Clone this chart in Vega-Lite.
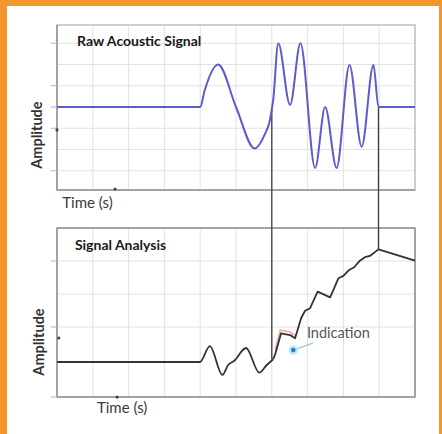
{
  "$schema": "https://vega.github.io/schema/vega-lite/v6.json",
  "width": 442,
  "height": 434,
  "autosize": {"type": "fit", "contains": "padding"},
  "padding": 0,
  "background": "#F3962B",
  "config": {"view": {"stroke": null}},
  "datasets": {
    "bg": [{"x": -1.397, "x2": 10.67, "y": -15.388, "y2": 4.753}],
    "grid": [
      {"x": 1, "x2": 1, "y": -3.91, "y2": 3.86}, {"x": 2, "x2": 2, "y": -3.91, "y2": 3.86},
      {"x": 3, "x2": 3, "y": -3.91, "y2": 3.86}, {"x": 4, "x2": 4, "y": -3.91, "y2": 3.86},
      {"x": 5, "x2": 5, "y": -3.91, "y2": 3.86}, {"x": 6, "x2": 6, "y": -3.91, "y2": 3.86},
      {"x": 7, "x2": 7, "y": -3.91, "y2": 3.86}, {"x": 8, "x2": 8, "y": -3.91, "y2": 3.86},
      {"x": 9, "x2": 9, "y": -3.91, "y2": 3.86},
      {"x": 0, "x2": 10, "y": 3, "y2": 3}, {"x": 0, "x2": 10, "y": 2, "y2": 2},
      {"x": 0, "x2": 10, "y": 1, "y2": 1}, {"x": 0, "x2": 10, "y": -1, "y2": -1},
      {"x": 0, "x2": 10, "y": -2, "y2": -2}, {"x": 0, "x2": 10, "y": -3, "y2": -3},
      {"x": 1, "x2": 1, "y": -13.65, "y2": -5.69}, {"x": 2, "x2": 2, "y": -13.65, "y2": -5.69},
      {"x": 3, "x2": 3, "y": -13.65, "y2": -5.69}, {"x": 4, "x2": 4, "y": -13.65, "y2": -5.69},
      {"x": 5, "x2": 5, "y": -13.65, "y2": -5.69}, {"x": 6, "x2": 6, "y": -13.65, "y2": -5.69},
      {"x": 7, "x2": 7, "y": -13.65, "y2": -5.69}, {"x": 8, "x2": 8, "y": -13.65, "y2": -5.69},
      {"x": 9, "x2": 9, "y": -13.65, "y2": -5.69},
      {"x": 0, "x2": 10, "y": -7.25, "y2": -7.25}, {"x": 0, "x2": 10, "y": -8.8, "y2": -8.8},
      {"x": 0, "x2": 10, "y": -10.35, "y2": -10.35}
    ],
    "frames": [
      {"x": 0, "x2": 10, "y": -3.91, "y2": 3.86},
      {"x": 0, "x2": 10, "y": -13.65, "y2": -5.69}
    ],
    "axes": [
      {"x": 0, "x2": 0, "y": -3.91, "y2": 3.86},
      {"x": 0, "x2": 10, "y": -3.91, "y2": -3.91},
      {"x": 0, "x2": 0, "y": -13.65, "y2": -5.69},
      {"x": 0, "x2": 10, "y": -13.65, "y2": -13.65},
      {"x": 0, "x2": 10, "y": -5.69, "y2": -5.69},
      {"x": 10, "x2": 10, "y": -13.65, "y2": -5.69}
    ],
    "ticks": [
      {"x": -0.18, "x2": 0, "y": 3, "y2": 3}, {"x": -0.18, "x2": 0, "y": 1, "y2": 1},
      {"x": -0.18, "x2": 0, "y": 0, "y2": 0}, {"x": -0.18, "x2": 0, "y": -1, "y2": -1},
      {"x": -0.18, "x2": 0, "y": -3, "y2": -3},
      {"x": -0.18, "x2": 0, "y": -7.25, "y2": -7.25}, {"x": -0.18, "x2": 0, "y": -10.35, "y2": -10.35},
      {"x": -0.18, "x2": 0, "y": -13.65, "y2": -13.65}
    ],
    "links": [
      {"x": 6.0, "y": -0.1, "y2": -11.87},
      {"x": 8.98, "y": 0, "y2": -6.72}
    ],
    "raw": [
      {"t": 0, "a": 0}, {"t": 4.0, "a": 0}, {"t": 4.12, "a": 0.75}, {"t": 4.5, "a": 2.0},
      {"t": 5.0, "a": 0}, {"t": 5.52, "a": -1.95}, {"t": 5.8, "a": -1.3}, {"t": 5.95, "a": -0.6},
      {"t": 6.0, "a": -0.1}, {"t": 6.04, "a": 0.35}, {"t": 6.18, "a": 3.0}, {"t": 6.51, "a": 0.1},
      {"t": 6.8, "a": 3.0}, {"t": 7.21, "a": -2.87}, {"t": 7.49, "a": 0.0}, {"t": 7.81, "a": -2.87},
      {"t": 8.17, "a": 1.98}, {"t": 8.51, "a": -1.87}, {"t": 8.84, "a": 1.98}, {"t": 8.98, "a": 0},
      {"t": 10, "a": 0}
    ],
    "analysisSmooth": [
      {"t": 0, "v": -12.0}, {"t": 3.99, "v": -12.0}, {"t": 4.27, "v": -11.25}, {"t": 4.62, "v": -12.61},
      {"t": 4.78, "v": -12.14}, {"t": 4.95, "v": -11.94}, {"t": 5.28, "v": -11.34}, {"t": 5.65, "v": -12.5},
      {"t": 5.86, "v": -12.14}, {"t": 6.04, "v": -11.87}
    ],
    "analysisSteps": [
      {"t": 6.04, "v": -11.87}, {"t": 6.1, "v": -11.6}, {"t": 6.26, "v": -10.65}, {"t": 6.51, "v": -10.73},
      {"t": 6.65, "v": -10.88}, {"t": 6.82, "v": -9.93}, {"t": 6.93, "v": -9.59}, {"t": 7.07, "v": -9.47},
      {"t": 7.28, "v": -8.69}, {"t": 7.63, "v": -8.96}, {"t": 7.86, "v": -8.06}, {"t": 8.0, "v": -7.95},
      {"t": 8.16, "v": -7.67}, {"t": 8.3, "v": -7.54}, {"t": 8.46, "v": -7.23}, {"t": 8.6, "v": -7.07},
      {"t": 8.74, "v": -7.01}, {"t": 8.98, "v": -6.7}, {"t": 10.0, "v": -7.23}
    ],
    "highlight": [
      {"t": 6.1, "v": -11.45}, {"t": 6.24, "v": -10.5}, {"t": 6.5, "v": -10.58}, {"t": 6.64, "v": -10.74}
    ],
    "arrow": [{"x": 7.15, "x2": 6.64, "y": -11.11, "y2": -11.42}],
    "dot": [{"x": 6.6, "y": -11.44}],
    "markers": [
      {"x": 1.62, "y": -3.86}, {"x": 1.68, "y": -13.65}, {"x": 0, "y": -1.08}, {"x": 0.05, "y": -10.87}
    ],
    "labels": [
      {"role": "title", "x": 0.56, "y": 3.06, "label": "Raw Acoustic Signal"},
      {"role": "title", "x": 0.5, "y": -6.54, "label": "Signal Analysis"},
      {"role": "ylab", "x": -0.53, "y": -1.32, "label": "Amplitude"},
      {"role": "ylab", "x": -0.47, "y": -11.06, "label": "Amplitude"},
      {"role": "xlab", "x": 0.85, "y": -4.52, "label": "Time (s)"},
      {"role": "xlab", "x": 1.82, "y": -14.16, "label": "Time (s)"},
      {"role": "note", "x": 6.98, "y": -10.68, "label": "Indication"}
    ]
  },
  "layer": [
    {
      "data": {"name": "bg"},
      "mark": {"type": "rect", "fill": "white"},
      "encoding": {
        "x": {"field": "x", "type": "quantitative", "scale": {"domain": [-1.592, 10.754], "nice": false, "zero": false}, "axis": null},
        "x2": {"field": "x2"},
        "y": {"field": "y", "type": "quantitative", "scale": {"domain": [-15.388, 5.035], "nice": false, "zero": false}, "axis": null},
        "y2": {"field": "y2"}
      }
    },
    {
      "data": {"name": "grid"},
      "mark": {"type": "rule", "color": "#e2e2e2", "strokeWidth": 1},
      "encoding": {
        "x": {"field": "x", "type": "quantitative"}, "x2": {"field": "x2"},
        "y": {"field": "y", "type": "quantitative"}, "y2": {"field": "y2"}
      }
    },
    {
      "data": {"name": "frames"},
      "mark": {"type": "rect", "fill": null, "stroke": "#cdcdcd", "strokeWidth": 2},
      "encoding": {
        "x": {"field": "x", "type": "quantitative"}, "x2": {"field": "x2"},
        "y": {"field": "y", "type": "quantitative"}, "y2": {"field": "y2"}
      }
    },
    {
      "data": {"name": "axes"},
      "mark": {"type": "rule", "color": "#a3a3a3", "strokeWidth": 2},
      "encoding": {
        "x": {"field": "x", "type": "quantitative"}, "x2": {"field": "x2"},
        "y": {"field": "y", "type": "quantitative"}, "y2": {"field": "y2"}
      }
    },
    {
      "data": {"name": "ticks"},
      "mark": {"type": "rule", "color": "#b5b5b5", "strokeWidth": 1},
      "encoding": {
        "x": {"field": "x", "type": "quantitative"}, "x2": {"field": "x2"},
        "y": {"field": "y", "type": "quantitative"}, "y2": {"field": "y2"}
      }
    },
    {
      "data": {"name": "links"},
      "mark": {"type": "rule", "color": "#3c3c3c", "strokeWidth": 1.3},
      "encoding": {
        "x": {"field": "x", "type": "quantitative"},
        "y": {"field": "y", "type": "quantitative"}, "y2": {"field": "y2"}
      }
    },
    {
      "data": {"name": "highlight"},
      "mark": {"type": "line", "color": "#e8806c", "strokeWidth": 2, "opacity": 0.6},
      "encoding": {
        "x": {"field": "t", "type": "quantitative"},
        "y": {"field": "v", "type": "quantitative"}
      }
    },
    {
      "data": {"name": "raw"},
      "mark": {"type": "line", "color": "#5c5ccf", "strokeWidth": 2, "interpolate": "monotone"},
      "encoding": {
        "x": {"field": "t", "type": "quantitative"},
        "y": {"field": "a", "type": "quantitative"}
      }
    },
    {
      "data": {"name": "analysisSmooth"},
      "mark": {"type": "line", "color": "#333333", "strokeWidth": 1.8, "interpolate": "monotone"},
      "encoding": {
        "x": {"field": "t", "type": "quantitative"},
        "y": {"field": "v", "type": "quantitative"}
      }
    },
    {
      "data": {"name": "analysisSteps"},
      "mark": {"type": "line", "color": "#333333", "strokeWidth": 1.8, "strokeJoin": "round"},
      "encoding": {
        "x": {"field": "t", "type": "quantitative"},
        "y": {"field": "v", "type": "quantitative"}
      }
    },
    {
      "data": {"name": "arrow"},
      "mark": {"type": "rule", "color": "#6fb3e3", "strokeWidth": 1},
      "encoding": {
        "x": {"field": "x", "type": "quantitative"}, "x2": {"field": "x2"},
        "y": {"field": "y", "type": "quantitative"}, "y2": {"field": "y2"}
      }
    },
    {
      "data": {"name": "dot"},
      "mark": {"type": "point", "filled": true, "color": "#bfe2f6", "size": 90, "opacity": 0.9},
      "encoding": {
        "x": {"field": "x", "type": "quantitative"},
        "y": {"field": "y", "type": "quantitative"}
      }
    },
    {
      "data": {"name": "dot"},
      "mark": {"type": "point", "filled": true, "color": "#1a86d0", "size": 22, "opacity": 1},
      "encoding": {
        "x": {"field": "x", "type": "quantitative"},
        "y": {"field": "y", "type": "quantitative"}
      }
    },
    {
      "data": {"name": "markers"},
      "mark": {"type": "point", "filled": true, "color": "#444444", "size": 10, "opacity": 1},
      "encoding": {
        "x": {"field": "x", "type": "quantitative"},
        "y": {"field": "y", "type": "quantitative"}
      }
    },
    {
      "data": {"name": "labels"},
      "transform": [{"filter": "datum.role === 'title'"}],
      "mark": {"type": "text", "align": "left", "baseline": "middle", "font": "Lato", "fontWeight": "bold", "fontSize": 14, "color": "#1a1a1a"},
      "encoding": {
        "x": {"field": "x", "type": "quantitative"},
        "y": {"field": "y", "type": "quantitative"},
        "text": {"field": "label"}
      }
    },
    {
      "data": {"name": "labels"},
      "transform": [{"filter": "datum.role === 'ylab'"}],
      "mark": {"type": "text", "align": "center", "baseline": "middle", "angle": 270, "font": "Lato", "fontWeight": "bold", "fontSize": 14.5, "color": "#333333"},
      "encoding": {
        "x": {"field": "x", "type": "quantitative"},
        "y": {"field": "y", "type": "quantitative"},
        "text": {"field": "label"}
      }
    },
    {
      "data": {"name": "labels"},
      "transform": [{"filter": "datum.role === 'xlab'"}],
      "mark": {"type": "text", "align": "center", "baseline": "middle", "font": "Lato", "fontSize": 15, "color": "#3a3a3a"},
      "encoding": {
        "x": {"field": "x", "type": "quantitative"},
        "y": {"field": "y", "type": "quantitative"},
        "text": {"field": "label"}
      }
    },
    {
      "data": {"name": "labels"},
      "transform": [{"filter": "datum.role === 'note'"}],
      "mark": {"type": "text", "align": "left", "baseline": "middle", "font": "Lato", "fontSize": 14.5, "color": "#555555"},
      "encoding": {
        "x": {"field": "x", "type": "quantitative"},
        "y": {"field": "y", "type": "quantitative"},
        "text": {"field": "label"}
      }
    }
  ]
}
